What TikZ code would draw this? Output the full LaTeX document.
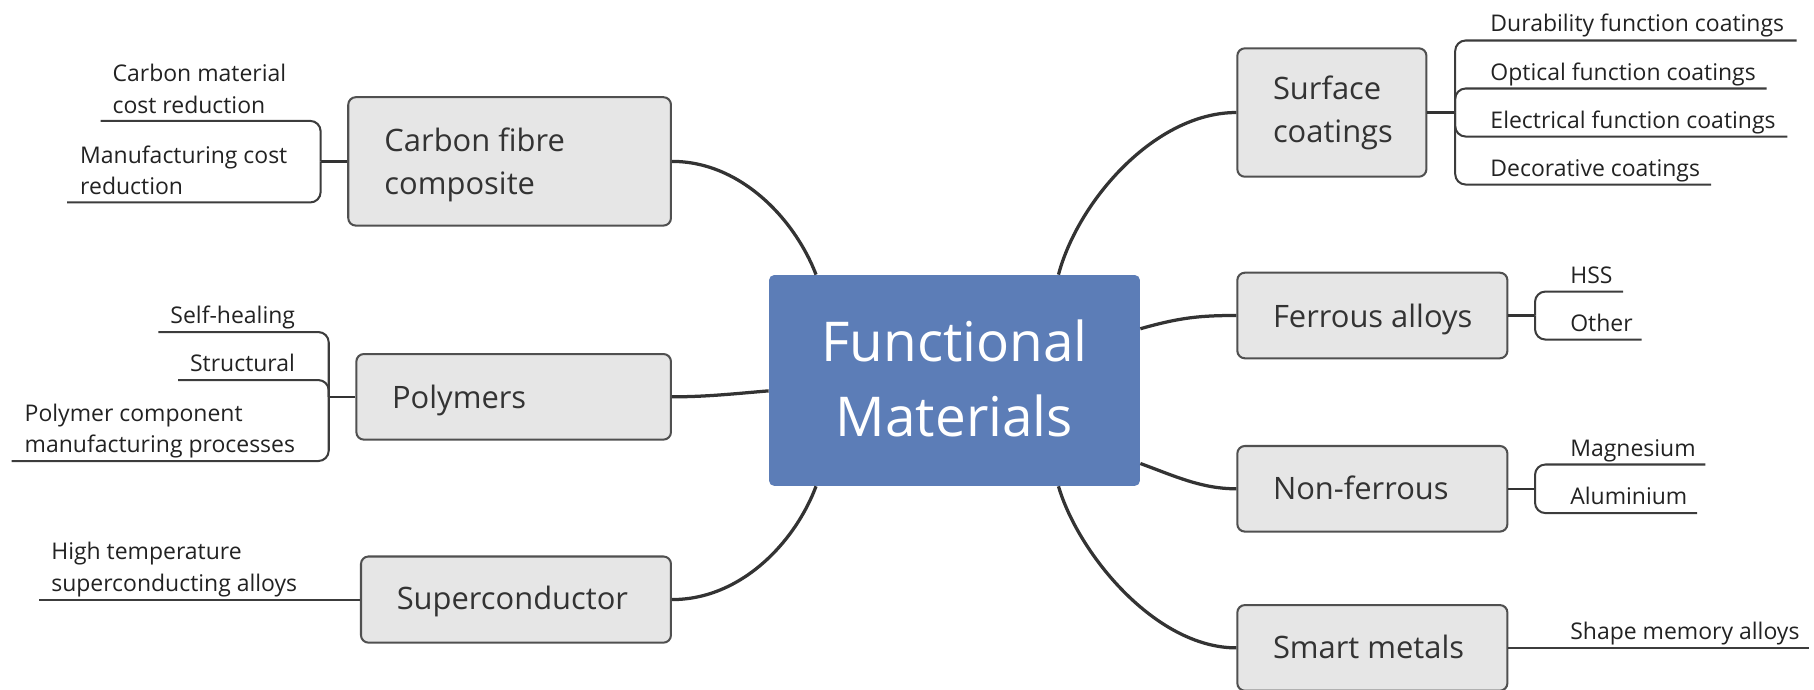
\documentclass[tikz,border=0pt]{standalone}
\usepackage{fontspec}
\setmainfont{Open Sans}
\definecolor{cblue}{HTML}{5C7DB7}
\definecolor{boxfill}{HTML}{E6E6E6}
\definecolor{boxline}{HTML}{505050}
\definecolor{linec}{HTML}{333333}
\definecolor{leafc}{HTML}{3C3C3C}
\definecolor{boxtext}{HTML}{333333}
\definecolor{leaftext}{HTML}{222222}
\newcommand\TwoL[2]{\vtop{\hbox{\strut #1}\hbox{\strut #2}}}
\newcommand\TwoC[2]{\vtop{\hbox to 0pt{\hss\strut #1\hss}\hbox to 0pt{\hss\strut #2\hss}}}
\begin{document}
\begin{tikzpicture}[x=0.02cm, y=-0.02cm,
  boxnode/.style={draw=boxline, fill=boxfill, rounded corners=0.13cm, line width=1pt, inner sep=0pt},
  centernode/.style={fill=cblue, rounded corners=0.09cm, inner sep=0pt},
  mainline/.style={draw=linec, line width=1.6pt},
  stemline/.style={draw=linec, line width=1.2pt},
  leafline/.style={draw=leafc, line width=1pt, rounded corners=0.18cm},
  boxtxt/.style={anchor=base west, inner sep=0pt, text=boxtext, font=\fontsize{15.2}{21}\selectfont},
  leaftxt/.style={anchor=base west, inner sep=0pt, text=leaftext, font=\fontsize{11.3}{15.6}\selectfont},
  ctxt/.style={anchor=base, inner sep=0pt, text=white, font=\fontsize{27}{36.8}\selectfont}]
\useasboundingbox (0,0) rectangle (1568,596);

% central node
\node[centernode, minimum width=6.414cm, minimum height=3.646cm] (fm) at (825.05,328.85) {};
\node[ctxt] (fmt) at (825,312.6) {\TwoC{Functional}{Materials}};

% branch boxes
\node[boxnode, minimum width=5.58cm, minimum height=2.22cm] (cf) at (440.5,139.5) {};
\node[boxnode, minimum width=5.44cm, minimum height=1.48cm] (po) at (444,343) {};
\node[boxnode, minimum width=5.36cm, minimum height=1.49cm] (sc) at (446,518.25) {};
\node[boxnode, minimum width=3.27cm, minimum height=2.22cm] (su) at (1151.25,97.25) {};
\node[boxnode, minimum width=4.67cm, minimum height=1.48cm] (fe) at (1186.25,272.7) {};
\node[boxnode, minimum width=4.67cm, minimum height=1.48cm] (nf) at (1186.25,422.5) {};
\node[boxnode, minimum width=4.67cm, minimum height=1.48cm] (sm) at (1186.25,560) {};

\node[boxtxt] (cft) at (332,131) {\TwoL{Carbon fibre}{composite}};
\node[boxtxt] (pot) at (338.6,353) {Polymers};
\node[boxtxt] (sct) at (342.6,527) {Superconductor};
\node[boxtxt] (sut) at (1100,86.4) {\TwoL{Surface}{coatings}};
\node[boxtxt] (fet) at (1100,283) {Ferrous alloys};
\node[boxtxt] (nft) at (1100,432) {Non-ferrous};
\node[boxtxt] (smt) at (1100,569) {Smart metals};

% main connectors
\draw[mainline] ([xshift=0.82cm]fm.north west) .. controls +(-18,-47) and +(60,0) .. (cf.east);
\draw[mainline] ([yshift=-0.18cm]fm.west) .. controls +(-30,2.5) and +(30,0) .. (po.east);
\draw[mainline] ([xshift=0.82cm]fm.south west) .. controls +(-18,48) and +(60,0) .. (sc.east);
\draw[mainline] ([xshift=-1.416cm]fm.north east) .. controls +(17,-64) and +(-70,0) .. (su.west);
\draw[mainline] ([yshift=0.894cm]fm.east) .. controls +(35,-10) and +(-30,0) .. (fe.west);
\draw[mainline] ([yshift=-1.436cm]fm.east) .. controls +(30,11) and +(-30,0) .. (nf.west);
\draw[mainline] ([xshift=-1.416cm]fm.south east) .. controls +(17,58) and +(-70,0) .. (sm.west);

% junctions
\coordinate (jcf) at ([xshift=-0.46cm]cf.west);
\coordinate (jpo) at ([xshift=-0.46cm]po.west);
\coordinate (jsu) at ([xshift=0.48cm]su.east);
\coordinate (jfe) at ([xshift=0.46cm]fe.east);
\coordinate (jnf) at ([xshift=0.46cm]nf.east);
\draw[stemline] (cf.west) -- (jcf);
\draw[stemline] (po.west) -- (jpo);
\draw[stemline] (su.east) -- (jsu);
\draw[stemline] (fe.east) -- (jfe);
\draw[stemline] (nf.east) -- (jnf);

% leaf line ends
\coordinate (ecm) at (87,104.5);
\coordinate (emc) at (58,175);
\coordinate (esh) at (137,287);
\coordinate (est) at (154,328.5);
\coordinate (epc) at (10,398.5);
\coordinate (eht) at (34,518.25);
\coordinate (edu) at (1553,35);
\coordinate (eop) at (1527,76.5);
\coordinate (eel) at (1545,118);
\coordinate (ede) at (1479,159.5);
\coordinate (ehs) at (1403,252);
\coordinate (eot) at (1419,293.5);
\coordinate (emg) at (1474,401.5);
\coordinate (eal) at (1467,443.5);
\coordinate (esm) at (1564,560);

\draw[leafline] (jcf) |- (ecm);
\draw[leafline] (jcf) |- (emc);
\draw[leafline] (jpo) |- (esh);
\draw[leafline] (jpo) |- (est);
\draw[leafline] (jpo) |- (epc);
\draw[leafline] (sc.west) -- (eht);
\draw[leafline] (jsu) |- (edu);
\draw[leafline] (jsu) |- (eop);
\draw[leafline] (jsu) |- (eel);
\draw[leafline] (jsu) |- (ede);
\draw[leafline] (jfe) |- (ehs);
\draw[leafline] (jfe) |- (eot);
\draw[leafline] (jnf) |- (emg);
\draw[leafline] (jnf) |- (eal);
\draw[leafline] (sm.east) -- (esm);

% leaf texts
\node[leaftxt] (tcm) at (97,70.5) {\TwoL{Carbon material}{cost reduction}};
\node[leaftxt] (tmc) at (69,141) {\TwoL{Manufacturing cost}{reduction}};
\node[leaftxt] (tsh) at (147,280) {Self-healing};
\node[leaftxt] (tst) at (164,321.5) {Structural};
\node[leaftxt] (tpc) at (21,364) {\TwoL{Polymer component}{manufacturing processes}};
\node[leaftxt] (tht) at (44,484) {\TwoL{High temperature}{superconducting alloys}};
\node[leaftxt] (tdu) at (1288,27.5) {Durability function coatings};
\node[leaftxt] (top) at (1288,69.5) {Optical function coatings};
\node[leaftxt] (tel) at (1288,111) {Electrical function coatings};
\node[leaftxt] (tde) at (1288,152.5) {Decorative coatings};
\node[leaftxt] (ths) at (1357,245) {HSS};
\node[leaftxt] (tot) at (1357,286.5) {Other};
\node[leaftxt] (tmg) at (1357,394.5) {Magnesium};
\node[leaftxt] (tal) at (1357,436.5) {Aluminium};
\node[leaftxt] (tsm) at (1357,553) {Shape memory alloys};
\end{tikzpicture}
\end{document}
